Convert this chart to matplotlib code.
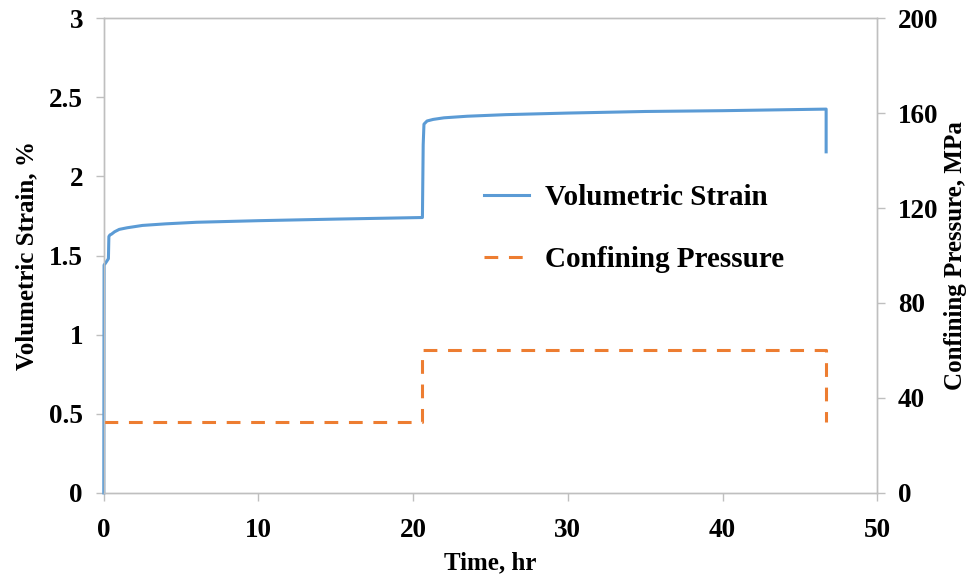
import numpy as np
import matplotlib
matplotlib.use("Agg")
from matplotlib import pyplot as plt

# strain record (hr, %)
time = [0, 0.02, 0.1, 0.3, 0.33, 0.4, 0.5, 0.7, 1.0, 1.5, 2.5, 4, 6, 10, 15,
        20.6, 20.65, 20.7, 20.9, 21.3, 22, 23.5, 26, 30, 35, 40, 46.7, 46.7]
strain = [0, 1.44, 1.45, 1.48, 1.62, 1.63, 1.635, 1.65, 1.665, 1.675, 1.69, 1.70,
          1.71, 1.72, 1.73, 1.74, 2.20, 2.33, 2.35, 2.36, 2.37, 2.38, 2.39, 2.40,
          2.41, 2.415, 2.425, 2.155]

# confining pressure steps (hr, MPa)
p_time = [0, 20.6, 20.6, 46.7, 46.7]
pressure = [30, 30, 60, 60, 30]

blue = "#5B9BD5"
orange = "#ED7D31"
grey = "#BFBFBF"

plt.rcParams["font.family"] = ["Liberation Serif", "DejaVu Serif"]
plt.rcParams["font.weight"] = "bold"

fig = plt.figure(figsize=(9.79, 5.84), dpi=100)
ax = fig.add_axes([0.106, 0.156, 0.790, 0.813])
ax2 = ax.twinx()

l1, = ax.plot(time, strain, color=blue, lw=2.2, label="Volumetric Strain",
              zorder=3, clip_on=False)
l2, = ax2.plot(p_time, pressure, color=orange, lw=2.2, ls=(0, (4.5, 3.5)),
               label="Confining Pressure")

ax.set_xlim(0, 50)
ax.set_ylim(0, 3)
ax2.set_ylim(0, 200)
ax.set_xticks([0, 10, 20, 30, 40, 50])
ax.set_yticks([0, 0.5, 1, 1.5, 2, 2.5, 3])
ax.set_yticklabels(["0", "0.5", "1", "1.5", "2", "2.5", "3"])
ax2.set_yticks([0, 40, 80, 120, 160, 200])

for a in (ax, ax2):
    for s in a.spines.values():
        s.set_color(grey)
        s.set_linewidth(1.0)
    a.tick_params(length=6, width=1, color=grey, labelsize=19.5, pad=9)
ax.tick_params(axis="x", pad=12)

ax.set_xlabel("Time, hr", fontsize=18, fontweight="bold", labelpad=6)
ax.set_ylabel("Volumetric Strain, %", fontsize=18, fontweight="bold", labelpad=8)
ax2.set_ylabel("Confining Pressure, MPa", fontsize=18, fontweight="bold", labelpad=4)

ax.legend(handles=[l1, l2], loc="upper left", bbox_to_anchor=(0.458, 0.705),
          frameon=False, handlelength=1.55, handletextpad=0.55, labelspacing=1.18,
          prop={"weight": "bold", "size": 21})

fig.savefig("out.png", dpi=100)
